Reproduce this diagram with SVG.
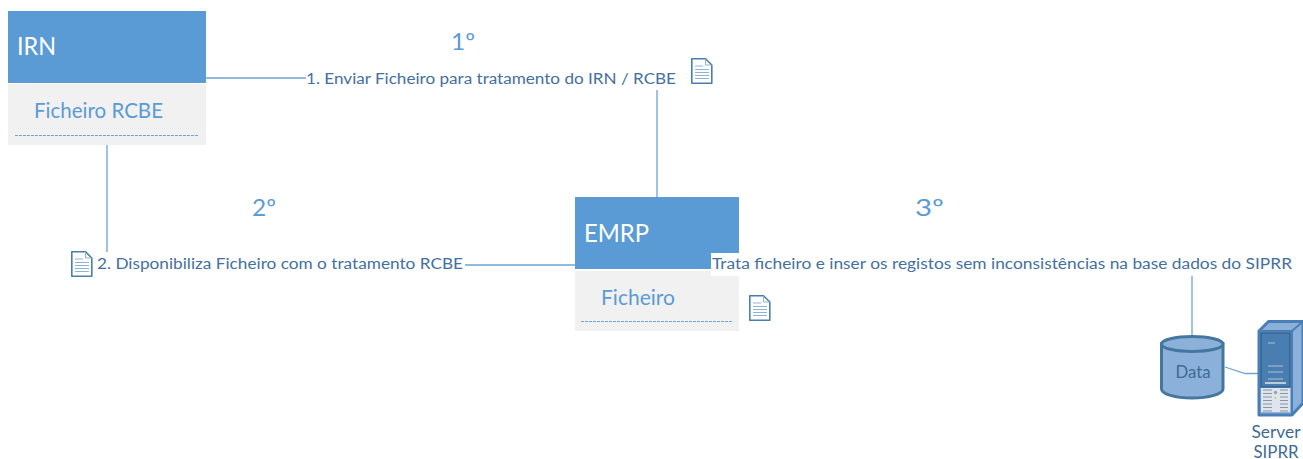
<svg xmlns="http://www.w3.org/2000/svg" width="1303" height="459" viewBox="0 0 1303 459">
<style>
text{font-family:Lato,"Open Sans",sans-serif}
.hd{fill:#5b9bd5}
.bd{fill:#f1f1f1}
.ttl{fill:#fff;font-size:25px}
.sub{fill:#5b9bd5;font-size:21px}
.lbl{fill:#44709f;font-size:15.5px}
.num{fill:#5b9bd5;font-size:24px}
.cap{fill:#3f6a94;font-size:17px;text-anchor:middle}
.dot{stroke:#6fa8e0;stroke-width:1;stroke-dasharray:3 1;fill:none}
.con{stroke:#6ea3d3;stroke-width:1.3;fill:none}
.doc{fill:#fff;stroke:#4a7eb0;stroke-width:1.6;stroke-linejoin:round}
.docl{stroke:#8fb3d6;stroke-width:1;fill:none}
</style>
<defs>
<g id="docicon">
<path class="doc" d="M0.8 0.8H14.5L20.8 7V25.2H0.8Z"/>
<path class="docl" d="M14.5 1V7H20.5"/>
<path class="docl" d="M4 8H12M4 11.5H18M4 14.5H18M4 17.5H18M4 20.5H18"/>
</g>
</defs>
<g id="connectors">
<path class="con" d="M206 78H306"/>
<path class="con" d="M657 90V198"/>
<path class="con" d="M107 145V252"/>
<path class="con" d="M465 265H575"/>
<path class="con" d="M1192 276V336"/>
<path class="con" d="M1225 367L1245 373.500H1259"/>
</g>
<g id="node-irn">
<rect class="hd" x="8" y="11" width="198" height="72"/>
<rect class="bd" x="8" y="84" width="198" height="61"/>
<path class="dot" d="M15 135.500H199"/>
<text class="ttl" x="17" y="55" textLength="39" lengthAdjust="spacingAndGlyphs">IRN</text>
<text class="sub" x="34" y="118" textLength="129" lengthAdjust="spacingAndGlyphs">Ficheiro RCBE</text>
</g>
<g id="node-emrp">
<rect class="hd" x="575" y="197" width="164" height="72"/>
<rect class="bd" x="575" y="271" width="164" height="60"/>
<path class="dot" d="M581 321.500H733"/>
<text class="ttl" x="584" y="241.500" textLength="65" lengthAdjust="spacingAndGlyphs">EMRP</text>
<text class="sub" x="601" y="305" textLength="74" lengthAdjust="spacingAndGlyphs">Ficheiro</text>
</g>
<g id="label-1">
<text class="num" x="451" y="50" textLength="24" lengthAdjust="spacingAndGlyphs">1º</text>
<text class="lbl" x="306" y="83.500" textLength="370" lengthAdjust="spacingAndGlyphs">1. Enviar Ficheiro para tratamento do IRN / RCBE</text>
<use href="#docicon" x="691" y="58"/>
</g>
<g id="label-2">
<text class="num" x="252" y="216" textLength="24" lengthAdjust="spacingAndGlyphs">2º</text>
<use href="#docicon" x="71" y="251"/>
<text class="lbl" x="97" y="269" textLength="366" lengthAdjust="spacingAndGlyphs">2. Disponibiliza Ficheiro com o tratamento RCBE</text>
</g>
<use id="doc-emrp" href="#docicon" x="749" y="295"/>
<g id="label-3">
<text class="num" x="915" y="216" textLength="29" lengthAdjust="spacingAndGlyphs">3º</text>
<rect x="711" y="253" width="28" height="23" fill="#fff"/>
<text class="lbl" x="712" y="269" textLength="580" lengthAdjust="spacingAndGlyphs">Trata ficheiro e inser os registos sem inconsistências na base dados do SIPRR</text>
</g>
<g id="node-data">
<path d="M1161.500 344V389C1161.500 394 1175 398 1192 398S1223 394 1223 389V344Z" fill="#8bb0da" stroke="#44779f" stroke-width="3"/>
<ellipse cx="1192.200" cy="344" rx="30.800" ry="7.500" fill="#8bb0da" stroke="#44779f" stroke-width="3"/>
<text class="cap" x="1193" y="377.500" textLength="35" lengthAdjust="spacingAndGlyphs">Data</text>
</g>
<g id="node-server">
<path d="M1259 331L1268.500 321.500H1303V403L1292 415H1259Z" fill="#8bb0da" stroke="#4a7fb5" stroke-width="3" stroke-linejoin="round"/>
<path d="M1259 331H1292V415M1292 331L1303 321.500" fill="none" stroke="#4a7fb5" stroke-width="2"/>
<rect x="1261" y="333" width="29" height="54" fill="#4a7db0" stroke="#2f6397" stroke-width="1.500"/>
<path d="M1268 343H1275M1268 366H1283M1268 372H1283M1268 379H1283" stroke="#a9c4e0" stroke-width="1" fill="none"/>
<path d="M1265 383H1286" stroke="#e6e6e0" stroke-width="1.500" fill="none"/>
<rect x="1261" y="388" width="29" height="24" fill="#dfe5ec"/>
<path d="M1263 390H1272M1263 393.500H1272M1263 397H1272M1263 400.500H1272M1263 404H1272M1263 407.500H1272M1263 411H1272M1280 390H1288M1280 393.500H1288M1280 397H1288M1280 400.500H1288M1280 404H1288M1280 407.500H1288M1280 411H1288" stroke="#8a96a2" stroke-width="1.200" fill="none"/>
<circle cx="1275.500" cy="392.500" r="1.800" fill="#9aa7b3"/>
<circle cx="1275.500" cy="398" r="1" fill="#c9d24a"/>
<text class="cap" x="1276" y="438" textLength="49" lengthAdjust="spacingAndGlyphs">Server</text>
<text class="cap" x="1276" y="458" textLength="45" lengthAdjust="spacingAndGlyphs">SIPRR</text>
</g>
</svg>
